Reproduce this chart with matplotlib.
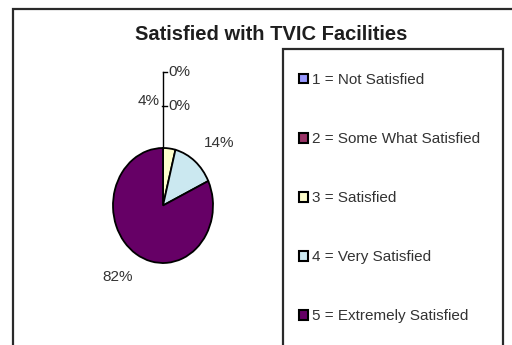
import matplotlib
matplotlib.use("Agg")
import matplotlib.pyplot as plt
from matplotlib.patches import Rectangle
import numpy as np

categories = ["1 = Not Satisfied", "2 = Some What Satisfied", "3 = Satisfied",
              "4 = Very Satisfied", "5 = Extremely Satisfied"]
shares = [0, 0, 4, 14, 82]
pct_labels = ["0%", "0%", "4%", "14%", "82%"]
colors = ["#9999FF", "#993366", "#FFFFCC", "#CBE8F0", "#660066"]

W, H = 512, 345
fig = plt.figure(figsize=(W / 100, H / 100), dpi=100)
fig.patch.set_facecolor("white")

def px(x, y, w, h):
    return [x / W, 1 - (y + h) / H, w / W, h / H]

# outer chart border
fig.add_artist(Rectangle((13 / W, -0.1), 1.2, 1 - 9 / H + 0.1, transform=fig.transFigure,
                         fill=False, edgecolor="#2a2a2a", lw=1.6))

fig.text(271 / W, 1 - 34 / H, "Satisfied with TVIC Facilities", ha="center", va="center",
         fontsize=14.5, fontweight="bold", family="Liberation Sans", color="#1e1e1e")

# pie, drawn slightly taller than wide
ax = fig.add_axes(px(113, 148, 100, 115))
wedges, _ = ax.pie(shares, colors=colors, startangle=90, counterclock=False,
                   wedgeprops=dict(edgecolor="black", linewidth=1.3))
ax.set_xlim(-1, 1)
ax.set_ylim(-1, 1)
ax.set_aspect("auto")
ax.axis("off")

# leader line shared by the two empty categories
y_top, y_mid = 2.32, 1.73
ax.plot([0, 0], [1, y_top], color="black", lw=1, clip_on=False)
ax.plot([0, 0.08], [y_top, y_top], color="black", lw=1, clip_on=False)
ax.plot([-0.02, 0.08], [y_mid, y_mid], color="black", lw=1, clip_on=False)

lab_font = dict(family="Liberation Sans", color="#333333")
label_pos = [(0.1, y_top, "left"), (0.1, y_mid, "left"), (-0.06, 1.81, "right"),
             (1.12, 1.08, "center"), (-0.9, -1.25, "center")]
for (x, y, ha), txt in zip(label_pos, pct_labels):
    ax.text(x, y, txt, ha=ha, va="center", fontsize=11, clip_on=False, **lab_font)

# legend frame runs off the bottom edge
fig.add_artist(Rectangle((283 / W, -0.1), (503 - 283) / W, 1 - 49 / H + 0.1,
                         transform=fig.transFigure, fill=False, edgecolor="#2a2a2a", lw=1.6))
leg = fig.legend(wedges, categories, loc="upper left", bbox_to_anchor=(299 / W, 1 - 73 / H),
                 frameon=False, labelspacing=2.95, handlelength=0.6,
                 handleheight=0.6, handletextpad=0.25, borderpad=0, borderaxespad=0,
                 prop=dict(family="Liberation Sans", size=11))
for t in leg.get_texts():
    t.set_color("#333333")
for h in leg.legend_handles:
    h.set_edgecolor("black")
    h.set_linewidth(1.5)

fig.savefig("out.png", dpi=100)
